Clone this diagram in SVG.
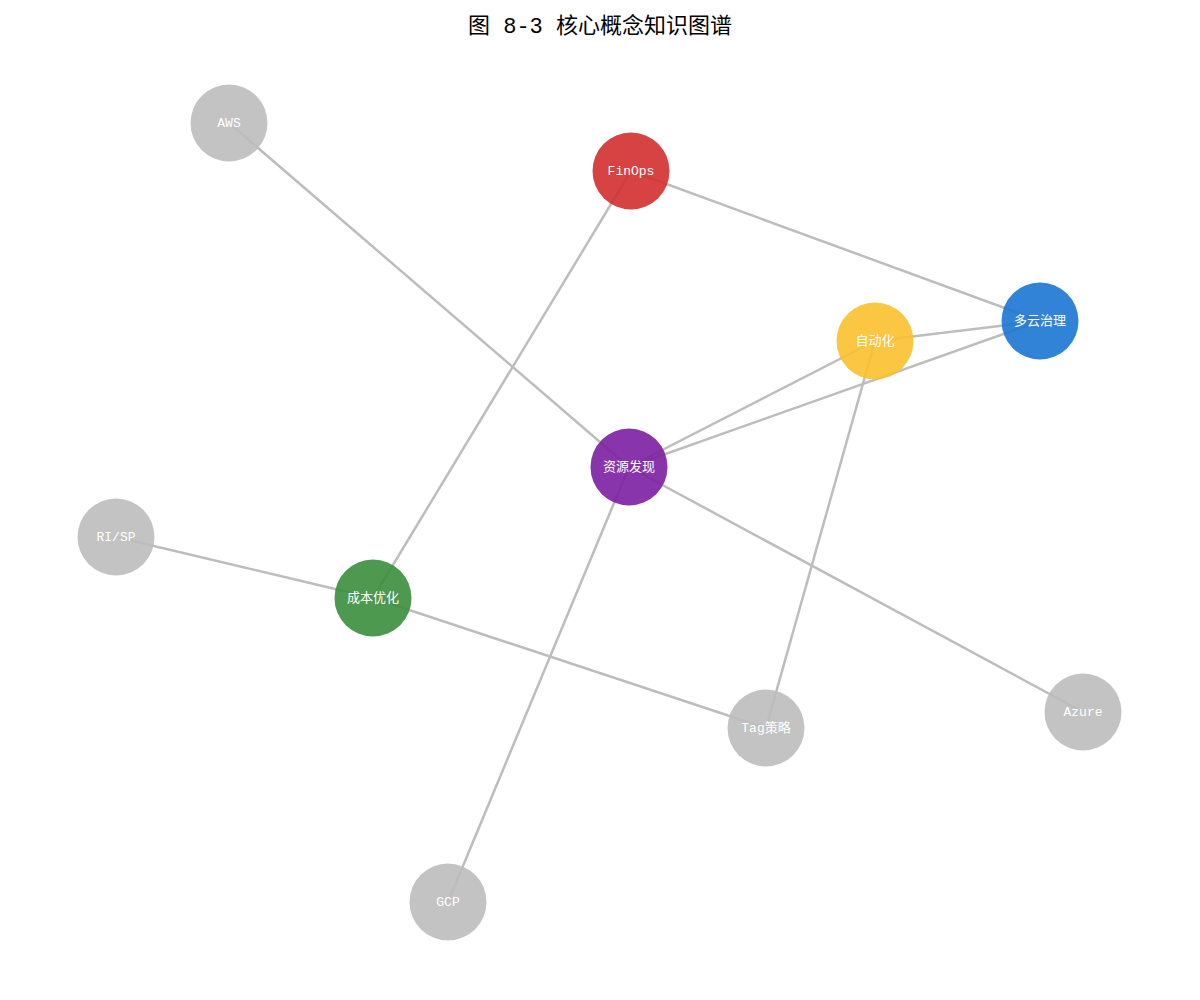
<svg xmlns="http://www.w3.org/2000/svg" width="1200" height="1000" viewBox="0 0 1200 1000">
<style>
.e{stroke:#bdbdbd;stroke-width:2.5;fill:none}
.n{opacity:0.9}
.t{font-family:"Liberation Mono","Noto Sans CJK SC",monospace;font-size:13px;fill:#ffffff;text-anchor:middle;dominant-baseline:central}
.title{font-family:"Liberation Mono","Noto Sans CJK SC",monospace;font-size:22px;fill:#000000;text-anchor:middle}
</style>
<rect width="1200" height="1000" fill="#ffffff"/>
<text class="title" x="600" y="33">图 8-3 核心概念知识图谱</text>
<g id="edges">
<line class="e" x1="229" y1="123" x2="629" y2="467"/>
<line class="e" x1="631" y1="171" x2="1040" y2="321"/>
<line class="e" x1="631" y1="171" x2="373" y2="598"/>
<line class="e" x1="875" y1="341" x2="1040" y2="321"/>
<line class="e" x1="629" y1="467" x2="1040" y2="321"/>
<line class="e" x1="629" y1="467" x2="875" y2="341"/>
<line class="e" x1="875" y1="341" x2="766" y2="728"/>
<line class="e" x1="629" y1="467" x2="1083" y2="712"/>
<line class="e" x1="629" y1="467" x2="448" y2="902"/>
<line class="e" x1="116" y1="537" x2="373" y2="598"/>
<line class="e" x1="373" y1="598" x2="766" y2="728"/>
</g>
<g id="node-aws"><circle class="n" cx="229" cy="123" r="38.5" fill="#bdbdbd"/><text class="t" x="229" y="123">AWS</text></g>
<g id="node-finops"><circle class="n" cx="631" cy="171" r="38.5" fill="#d32f2f"/><text class="t" x="631" y="171">FinOps</text></g>
<g id="node-multicloud"><circle class="n" cx="1040" cy="321" r="38.5" fill="#1976d2"/><text class="t" x="1040" y="321">多云治理</text></g>
<g id="node-automation"><circle class="n" cx="875" cy="341" r="38.5" fill="#fbc02d"/><text class="t" x="875" y="341">自动化</text></g>
<g id="node-discovery"><circle class="n" cx="629" cy="467" r="38.5" fill="#7b1fa2"/><text class="t" x="629" y="467">资源发现</text></g>
<g id="node-cost"><circle class="n" cx="373" cy="598" r="38.5" fill="#388e3c"/><text class="t" x="373" y="598">成本优化</text></g>
<g id="node-risp"><circle class="n" cx="116" cy="537" r="38.5" fill="#bdbdbd"/><text class="t" x="116" y="537">RI/SP</text></g>
<g id="node-tag"><circle class="n" cx="766" cy="728" r="38.5" fill="#bdbdbd"/><text class="t" x="766" y="728">Tag策略</text></g>
<g id="node-azure"><circle class="n" cx="1083" cy="712" r="38.5" fill="#bdbdbd"/><text class="t" x="1083" y="712">Azure</text></g>
<g id="node-gcp"><circle class="n" cx="448" cy="902" r="38.5" fill="#bdbdbd"/><text class="t" x="448" y="902">GCP</text></g>
</svg>
